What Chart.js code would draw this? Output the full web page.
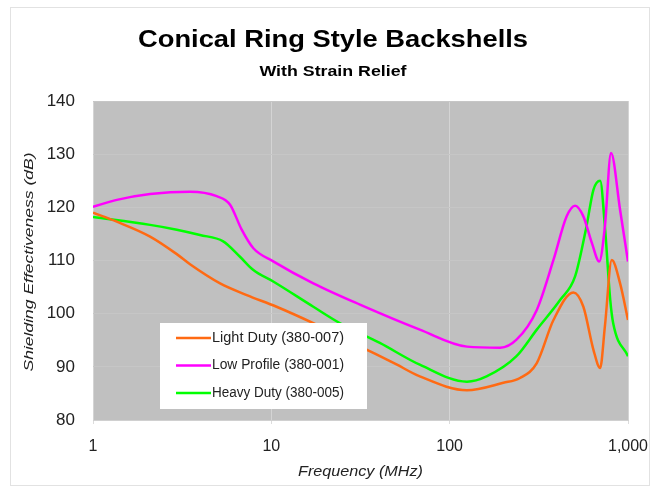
<!DOCTYPE html>
<html>
<head>
<meta charset="utf-8">
<script src="https://cdn.jsdelivr.net/npm/chart.js@4"></script>
<style>
  body { margin: 0; background: #fff; }
  #wrap { width: 653px; height: 489px; }
</style>
</head>
<body>
<div id="wrap"><canvas id="myChart" width="653" height="489"></canvas></div>
<script>
// Frequencies (MHz) and shielding values (dB)
const lightFreq = [1, 1.36, 2.09, 2.95, 3.5, 5.16, 7.28, 10.7, 17.2, 34.4, 50, 68, 125, 200, 248, 308, 382, 494, 562, 640, 698, 742, 811, 903, 1000];
const lightDb = [119, 117.3, 114.5, 111.2, 109.3, 105.7, 103.5, 101.3, 98.2, 93.2, 90.5, 88.2, 85.6, 87.0, 87.9, 90.7, 98.8, 104.0, 101.3, 93.2, 89.8, 97.6, 110.1, 105.7, 98.8];

const lowFreq = [1, 1.36, 2.09, 3.5, 4.94, 5.87, 6.82, 7.93, 10.3, 17.2, 31.4, 68, 125, 192, 237, 308, 382, 453, 505, 562, 627, 690, 742, 803, 903, 1000];
const lowDb = [120.1, 121.4, 122.5, 122.95, 122.1, 120.5, 115.8, 112.3, 109.8, 105.7, 101.7, 97.0, 93.8, 93.6, 95.1, 100.7, 110.1, 118.3, 120.3, 118.3, 113.3, 109.8, 116.4, 130.2, 119.5, 109.8];

const heavyFreq = [1, 2.09, 2.95, 3.98, 5.37, 6.67, 7.93, 10.3, 17.2, 24.3, 40.6, 68, 125, 161, 237, 308, 417, 505, 585, 640, 698, 742, 795, 826, 1000];
const heavyDb = [118.2, 116.7, 115.8, 114.8, 113.6, 110.7, 108.2, 106.0, 101.3, 98.2, 94.5, 90.4, 87.2, 88.2, 92.0, 97.0, 102.6, 107.0, 116.4, 123.3, 125.0, 116.4, 102.6, 98.2, 92.0];

const seriesNames = ['Light Duty (380-007)', 'Low Profile (380-001)', 'Heavy Duty (380-005)'];
const seriesColors = ['#ff6a13', '#ff00ff', '#00ff00'];
const xTicks = [1, 10, 100, 1000];
const yTicks = [80, 90, 100, 110, 120, 130, 140];

const FONT = "'Liberation Sans', Arial, sans-serif";

function toPoints(xs, ys) {
    return xs.map((x, i) => ({ x: x, y: ys[i] }));
}

// the source text is a bit wider than Arial, so stretch it to the measured width
function fitText(ctx, text, cx, cy, width, angle) {
    const w = ctx.measureText(text).width;
    ctx.save();
    ctx.translate(cx, cy);
    if (angle) ctx.rotate(angle);
    ctx.scale(width / w, 1);
    ctx.fillText(text, 0, 0);
    ctx.restore();
}

// Titles, frame and the legend box inside the plot
const decorPlugin = {
    id: 'decor',
    beforeDraw(chart) {
        const ctx = chart.ctx;
        const area = chart.chartArea;
        ctx.save();
        ctx.fillStyle = '#fff';
        ctx.fillRect(0, 0, chart.width, chart.height);
        ctx.strokeStyle = '#e2e2e2';
        ctx.lineWidth = 1;
        ctx.strokeRect(10.5, 7.5, chart.width - 14, chart.height - 11);
        ctx.fillStyle = '#c0c0c0';
        ctx.fillRect(area.left, area.top, area.right - area.left, area.bottom - area.top);

        ctx.fillStyle = '#000';
        ctx.textAlign = 'center';
        ctx.textBaseline = 'middle';
        ctx.font = 'bold 23.5px ' + FONT;
        fitText(ctx, 'Conical Ring Style Backshells', 333, 41, 390);
        ctx.font = 'bold 14px ' + FONT;
        fitText(ctx, 'With Strain Relief', 333, 72, 147);

        ctx.fillStyle = '#222';
        ctx.font = 'italic 15px ' + FONT;
        fitText(ctx, 'Frequency (MHz)', (area.left + area.right) / 2, 472, 125);
        ctx.font = 'italic 13px ' + FONT;
        fitText(ctx, 'Shielding Effectiveness (dB)', 29, 262, 219, -Math.PI / 2);
        ctx.restore();
    },
    afterDatasetsDraw(chart) {
        const ctx = chart.ctx;
        ctx.save();
        ctx.fillStyle = '#fff';
        ctx.fillRect(160, 323, 207, 86);
        ctx.font = '14px ' + FONT;
        ctx.textAlign = 'left';
        ctx.textBaseline = 'middle';
        chart.data.datasets.forEach((ds, i) => {
            const y = 338 + i * 27.5;
            ctx.strokeStyle = ds.borderColor;
            ctx.lineWidth = 2.5;
            ctx.beginPath();
            ctx.moveTo(176, y);
            ctx.lineTo(211, y);
            ctx.stroke();
            ctx.fillStyle = '#222';
            fitText(ctx, ds.label, 212, y, 132);
        });
        ctx.restore();
    }
};

const ctx = document.getElementById('myChart').getContext('2d');
const myChart = new Chart(ctx, {
    type: 'line',
    data: {
        datasets: [
            { label: seriesNames[0], data: toPoints(lightFreq, lightDb) },
            { label: seriesNames[1], data: toPoints(lowFreq, lowDb) },
            { label: seriesNames[2], data: toPoints(heavyFreq, heavyDb) }
        ].map((ds, i) => Object.assign(ds, {
            borderColor: seriesColors[i],
            backgroundColor: seriesColors[i],
            borderWidth: 2.5,
            pointRadius: 0,
            cubicInterpolationMode: 'monotone',
            fill: false
        }))
    },
    options: {
        responsive: false,
        animation: false,
        layout: { padding: { top: 101, left: 12, right: 25, bottom: 8 } },
        plugins: {
            legend: { display: false },
            title: { display: false },
            tooltip: { enabled: false }
        },
        scales: {
            x: {
                type: 'logarithmic',
                min: 1,
                max: 1000,
                afterBuildTicks: axis => { axis.ticks = xTicks.map(v => ({ value: v })); },
                afterFit: axis => {
                    axis.height = 61;
                    axis.paddingLeft = 0;
                    axis.paddingRight = 0;
                },
                ticks: {
                    color: '#222',
                    font: { family: FONT, size: 16 },
                    padding: 13,
                    maxRotation: 0,
                    callback: v => Number(v).toLocaleString('en-US')
                },
                grid: { color: '#d4d4d4', lineWidth: 1, tickLength: 4, tickColor: '#dcdcdc' },
                border: { color: '#d0d0d0' }
            },
            y: {
                min: 80,
                max: 140,
                afterBuildTicks: axis => { axis.ticks = yTicks.map(v => ({ value: v })); },
                afterFit: axis => { axis.width = 81; },
                ticks: {
                    color: '#222',
                    font: { family: FONT, size: 17 },
                    padding: 18
                },
                grid: { color: '#c6c6c6', lineWidth: 1, tickLength: 0, drawTicks: false },
                border: { display: false }
            }
        }
    },
    plugins: [decorPlugin]
});
</script>
</body>
</html>
